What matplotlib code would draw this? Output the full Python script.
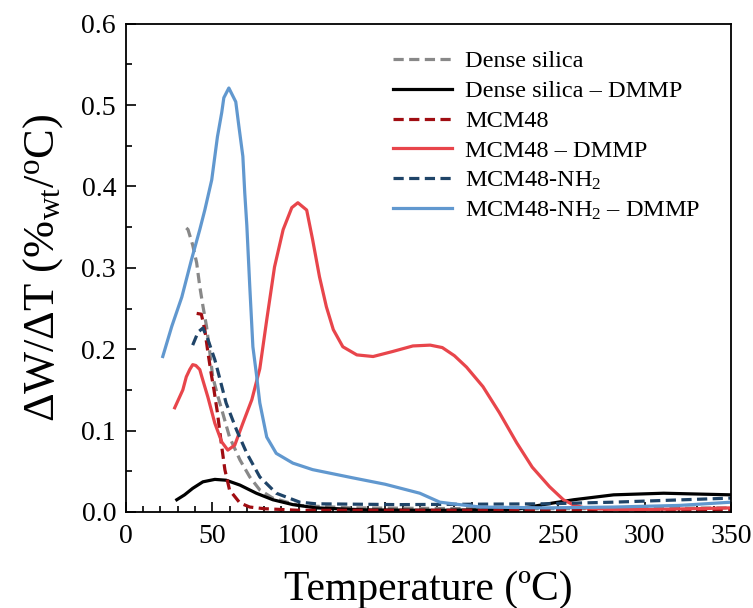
import matplotlib
matplotlib.use("Agg")
import matplotlib.pyplot as plt
from matplotlib.ticker import MultipleLocator

plt.rcParams['font.family'] = ['Liberation Serif', 'DejaVu Serif']
plt.rcParams['mathtext.fontset'] = 'custom'
plt.rcParams['mathtext.rm'] = 'Liberation Serif'
plt.rcParams['mathtext.it'] = 'Liberation Serif:italic'

# Dense silica (dashed grey)
t_ds = [35, 36, 38.7, 41, 42.8, 44.7, 46.7, 48.6, 50.3, 53, 56, 60, 66, 71.7, 77.5, 85, 100, 130, 200, 280, 350]
w_ds = [0.349, 0.347, 0.328, 0.306, 0.277, 0.252, 0.228, 0.196, 0.166, 0.144, 0.122, 0.092, 0.064, 0.043, 0.027, 0.017,
        0.008, 0.005, 0.004, 0.004, 0.005]

# Dense silica - DMMP (solid black)
t_dsd = [29.5, 34, 38.7, 44.6, 51.5, 58, 66, 75.5, 85, 96.6, 110, 139, 180, 225, 247, 259, 282, 311, 350]
w_dsd = [0.015, 0.021, 0.029, 0.037, 0.040, 0.039, 0.033, 0.023, 0.015, 0.009, 0.005, 0.0025, 0.002, 0.003, 0.011,
         0.015, 0.021, 0.023, 0.021]

# MCM48 (dashed dark red)
t_m = [41, 43.7, 45.7, 47.5, 49.7, 51, 53, 55.5, 57.3, 60, 66, 71.7, 80, 100, 200, 300, 350]
w_m = [0.244, 0.243, 0.224, 0.196, 0.166, 0.150, 0.122, 0.080, 0.052, 0.027, 0.011, 0.006, 0.004, 0.002, 0.002, 0.002, 0.003]

# MCM48 - DMMP (solid red)
t_md = [28.3, 33, 35, 37, 38.7, 40.5, 42.8, 44, 47.5, 51.5, 55.5, 59, 63, 67.7, 72.9, 77.5, 81.5, 86, 91, 96, 99.5,
        104.6, 108, 112, 116, 120, 125.5, 133.6, 143, 154, 166, 176, 183, 190, 197, 206.5, 216, 226, 235, 245,
        253, 258.5, 265, 280, 300, 330, 350]
w_md = [0.128, 0.150, 0.166, 0.175, 0.181, 0.180, 0.175, 0.166, 0.141, 0.109, 0.086, 0.076, 0.082, 0.109, 0.138,
        0.176, 0.236, 0.301, 0.347, 0.374, 0.380,
        0.371, 0.335, 0.289, 0.252, 0.224, 0.203, 0.193, 0.191, 0.197, 0.204, 0.205, 0.202, 0.192, 0.178, 0.154,
        0.122, 0.085, 0.055, 0.031,
        0.015, 0.009, 0.005, 0.003, 0.003, 0.004, 0.005]

# MCM48-NH2 (dashed navy)
t_mn = [38.7, 41.8, 44.6, 47.5, 51.5, 53, 58, 64, 70, 77.5, 87, 100.6, 110, 158, 243, 282, 350]
w_mn = [0.205, 0.221, 0.226, 0.212, 0.187, 0.175, 0.134, 0.101, 0.072, 0.043, 0.023, 0.012, 0.010, 0.009, 0.010,
        0.012, 0.017]

# MCM48-NH2 - DMMP (solid light blue)
t_mnd = [21.4, 26.6, 32.4, 38, 42.8, 45.7, 49.7, 53, 55.5, 56.7, 59.6, 63.6, 65.4, 67.7, 68.8, 70, 71.7, 73.5,
         75.5, 77.5, 81.5, 87, 96.6, 108, 131, 150, 170, 181.6, 193, 205, 243, 282, 320, 350]
w_mnd = [0.191, 0.228, 0.264, 0.310, 0.347, 0.371, 0.408, 0.461, 0.491, 0.509, 0.521, 0.504, 0.474, 0.437, 0.392,
         0.352, 0.277, 0.203, 0.170, 0.134, 0.092, 0.072, 0.060, 0.052, 0.042, 0.034, 0.023, 0.012, 0.009, 0.006,
         0.005, 0.006, 0.008, 0.012]

fig = plt.figure(figsize=(7.53, 6.08), dpi=100)
ax = fig.add_axes([0.167, 0.158, 0.804, 0.803])

lw = 2.3
dash = (3.2, 1.7)
ax.plot(t_ds, w_ds, color='#888888', lw=lw, ls=(0, dash), label='Dense silica')
ax.plot(t_dsd, w_dsd, color='black', lw=lw, label='Dense silica – DMMP')
ax.plot(t_m, w_m, color='#a00d12', lw=lw, ls=(0, dash), label='MCM48')
ax.plot(t_md, w_md, color='#e8454b', lw=lw, label='MCM48 – DMMP')
ax.plot(t_mn, w_mn, color='#1f4468', lw=lw, ls=(0, dash), label='MCM48-NH$_2$')
ax.plot(t_mnd, w_mnd, color='#6198cf', lw=lw, label='MCM48-NH$_2$ – DMMP')

ax.set_xlim(0, 350)
ax.set_ylim(0, 0.6)
ax.xaxis.set_major_locator(MultipleLocator(50))
ax.xaxis.set_minor_locator(MultipleLocator(10))
ax.yaxis.set_major_locator(MultipleLocator(0.1))
ax.yaxis.set_minor_locator(MultipleLocator(0.05))
ax.tick_params(which='both', direction='in', labelsize=20, width=1.2)
ax.tick_params(which='major', length=7)
ax.tick_params(which='minor', length=4)
ax.tick_params(axis='x', pad=9)
ax.tick_params(axis='y', pad=7)
for s in ax.spines.values():
    s.set_linewidth(1.3)

ax.set_xlabel('Temperature (ºC)', fontsize=30, labelpad=15)
ax.set_ylabel('ΔW/ΔT (%$_{\\mathrm{wt}}$/$^{\\mathrm{o}}$C)', fontsize=32, labelpad=12)

ax.legend(loc='upper right', frameon=False, fontsize=17.5, handlelength=2.4, handletextpad=0.55,
          labelspacing=0.32, bbox_to_anchor=(0.985, 0.99))

fig.savefig('out.png', dpi=100)
